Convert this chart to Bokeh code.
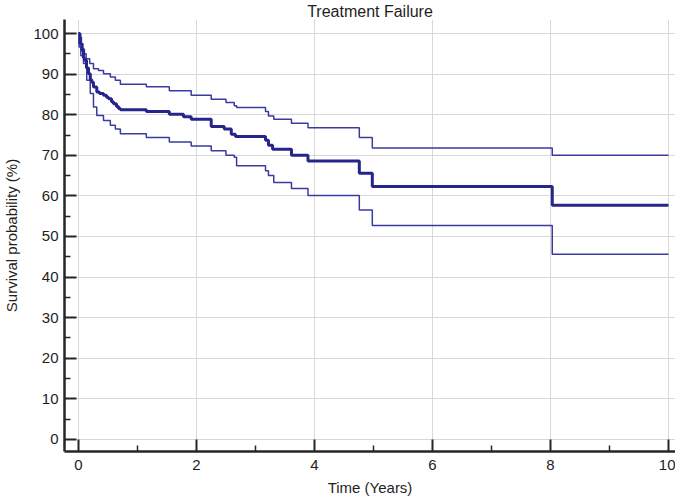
from bokeh.plotting import figure
from bokeh.models import FixedTicker, Range1d
from bokeh.embed import file_html
from bokeh.resources import INLINE

# Kaplan-Meier estimate (Treatment Failure), with 95% confidence band
t_mid = [0, 0.025, 0.056, 0.085, 0.10, 0.136, 0.17, 0.20, 0.225, 0.254, 0.31, 0.356,
         0.424, 0.475, 0.51, 0.56, 0.593, 0.644, 0.678, 0.71, 1.15, 1.54, 1.78, 1.91,
         2.25, 2.47, 2.59, 2.66, 3.17, 3.22, 3.29, 3.61, 3.89, 4.76, 4.98, 8.03, 10.0]
s_mid = [100, 97.5, 95.9, 94.0, 93.4, 91.5, 90.1, 88.6, 88.0, 86.8, 85.6, 85.2,
         84.8, 84.3, 83.9, 83.2, 82.7, 82.0, 81.5, 81.2, 80.8, 80.1, 79.5, 78.9,
         77.1, 76.5, 75.2, 74.6, 73.7, 72.5, 71.5, 70.0, 68.6, 65.6, 62.3, 57.7, 57.7]

t_up = [0, 0.02, 0.05, 0.075, 0.10, 0.13, 0.19, 0.254, 0.34, 0.424, 0.54, 0.625, 0.71,
        1.15, 1.54, 1.91, 2.25, 2.50, 2.64, 2.68, 3.17, 3.22, 3.31, 3.61, 3.89, 4.76,
        4.98, 8.03, 10.0]
s_up = [100, 99.1, 97.5, 96.2, 95.0, 93.8, 92.6, 91.3, 90.9, 90.1, 89.3, 88.5, 87.5,
        86.9, 85.9, 84.8, 83.8, 83.0, 82.2, 81.8, 80.8, 79.7, 78.9, 77.9, 76.8, 74.4,
        71.8, 70.0, 70.0]

t_lo = [0, 0.01, 0.04, 0.085, 0.14, 0.20, 0.254, 0.31, 0.424, 0.54, 0.625, 0.71,
        1.15, 1.54, 1.91, 2.25, 2.50, 2.64, 2.68, 3.17, 3.22, 3.31, 3.61, 3.89, 4.76,
        4.98, 8.03, 10.0]
s_lo = [100, 96.7, 94.5, 92.6, 88.5, 85.2, 81.9, 79.8, 78.6, 77.4, 76.5, 75.3,
        74.4, 73.3, 72.3, 71.1, 70.0, 69.5, 67.4, 66.2, 65.0, 63.3, 61.8, 60.1, 56.5,
        52.7, 45.6, 45.6]

x_ticks = [0, 2, 4, 6, 8, 10]
x_minor = [1, 3, 5, 7, 9]
y_ticks = list(range(0, 101, 10))
y_minor = list(range(5, 100, 10))

FONT = "Liberation Sans"
TXT = "#1e1e1e"

p = figure(frame_width=611, frame_height=432, output_backend="svg", toolbar_location=None,
           x_range=Range1d(-0.237, 10.119), y_range=Range1d(-2.96, 103.45),
           min_border_left=57, min_border_right=0, min_border_top=19, min_border_bottom=44,
           title="Treatment Failure")
p.title.align = "center"
p.title.text_font = FONT
p.title.text_font_size = "16px"
p.title.text_font_style = "normal"
p.title.text_color = TXT
p.title.standoff = 0
p.title.offset = 0
p.outline_line_color = None
p.background_fill_color = "white"
p.border_fill_color = "white"

p.xaxis.ticker = FixedTicker(ticks=x_ticks, minor_ticks=x_minor)
p.yaxis.ticker = FixedTicker(ticks=y_ticks, minor_ticks=y_minor)

for ax in (p.xaxis[0], p.yaxis[0]):
    ax.axis_line_width = 2.5
    ax.axis_line_color = "#262626"
    ax.major_tick_in = 12
    ax.major_tick_out = 0
    ax.minor_tick_in = 6
    ax.minor_tick_out = 0
    ax.major_tick_line_width = 2
    ax.minor_tick_line_width = 1.5
    ax.major_tick_line_color = "#262626"
    ax.minor_tick_line_color = "#262626"
    ax.major_label_text_font = FONT
    ax.major_label_text_font_size = "15px"
    ax.major_label_text_color = TXT
    ax.axis_label_text_font = FONT
    ax.axis_label_text_font_size = "15px"
    ax.axis_label_text_font_style = "normal"
    ax.axis_label_text_color = TXT

p.xaxis.axis_label = "Time (Years)"
p.yaxis.axis_label = "Survival probability (%)"
p.xaxis.major_label_standoff = 8
p.xaxis.axis_label_standoff = 6
p.yaxis.major_label_standoff = 6
p.yaxis.axis_label_standoff = 10

p.xgrid.ticker = FixedTicker(ticks=x_ticks)
p.ygrid.ticker = FixedTicker(ticks=y_ticks)
p.grid.grid_line_color = "#d8d8d8"
p.grid.grid_line_width = 1

p.step(t_up, s_up, mode="after", line_color="#3a3aa0", line_width=1.5)
p.step(t_lo, s_lo, mode="after", line_color="#3a3aa0", line_width=1.5)
p.step(t_mid, s_mid, mode="after", line_color="#25258c", line_width=3)

open("out.html", "w").write(file_html(p, INLINE))
